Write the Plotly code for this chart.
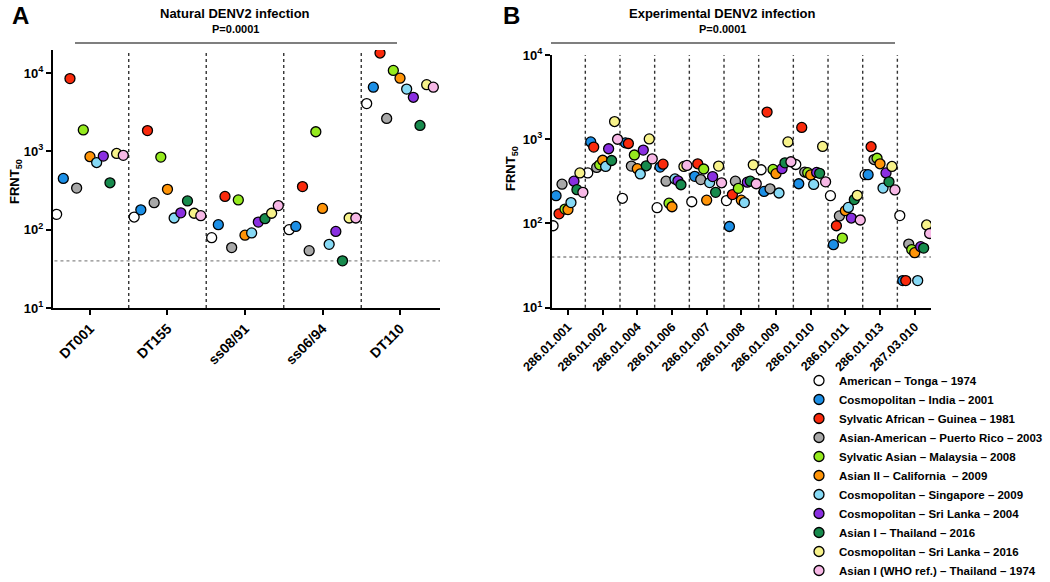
import plotly.graph_objects as go

# sera / samples on the x axes
natural_samples = ["DT001", "DT155", "ss08/91", "ss06/94", "DT110"]
experimental_samples = ["286.01.001", "286.01.002", "286.01.004", "286.01.006",
                        "286.01.007", "286.01.008", "286.01.009", "286.01.010",
                        "286.01.011", "286.01.013", "287.03.010"]

# DENV2 test viruses (legend order)
strains = ["American – Tonga – 1974",
           "Cosmopolitan – India – 2001",
           "Sylvatic African – Guinea – 1981",
           "Asian-American – Puerto Rico – 2003",
           "Sylvatic Asian – Malaysia – 2008",
           "Asian II – California  – 2009",
           "Cosmopolitan – Singapore – 2009",
           "Cosmopolitan – Sri Lanka – 2004",
           "Asian I – Thailand – 2016",
           "Cosmopolitan – Sri Lanka – 2016",
           "Asian I (WHO ref.) – Thailand – 1974"]
strain_colors = ["#ffffff", "#1c8fe6", "#fa2a0c", "#a8a8a8", "#95ea1e", "#ff9408",
                 "#86d9f5", "#8a2fe0", "#178a4d", "#f7f28a", "#f7b8e6"]

# FRNT50 titres, one row per strain
natural_frnt = [
    [157, 145, 79, 100, 4070],
    [451, 179, 116, 110, 6600],
    [8500, 1840, 266, 355, 18000],
    [340, 221, 59, 54, 2630],
    [1880, 845, 240, 1780, 10800],
    [855, 327, 85, 187, 8600],
    [720, 141, 91, 65, 6240],
    [870, 164, 125, 95, 4900],
    [397, 233, 138, 40, 2140],
    [940, 162, 162, 141, 7100],
    [890, 151, 203, 141, 6600],
]
experimental_frnt = [
    [94, 398, 199, 154, 181, 187, 434, 501, 214, 380, 124],
    [214, 930, 906, 467, 363, 92, 240, 296, 56, 380, 21],
    [130, 807, 890, 506, 511, 220, 2100, 1380, 94, 815, 21],
    [293, 463, 480, 318, 332, 318, 258, 408, 123, 574, 57],
    [148, 497, 650, 174, 443, 261, 438, 401, 67, 595, 49],
    [146, 563, 447, 158, 189, 189, 390, 377, 142, 511, 45],
    [177, 475, 387, 338, 306, 177, 230, 291, 155, 263, 21],
    [318, 771, 744, 321, 360, 309, 447, 404, 116, 398, 53],
    [252, 559, 484, 288, 234, 318, 525, 394, 192, 312, 51],
    [398, 1622, 1008, 475, 480, 497, 930, 821, 216, 475, 96],
    [234, 1000, 585, 489, 304, 296, 540, 312, 110, 250, 76],
]
detection_limit = 40

FONT = "Arial, Liberation Sans, sans-serif"
step = 0.086  # horizontal spread of the strains inside a sample column

fig = go.Figure()

# limit of detection lines
for xa, ya, cats in [("x", "y", natural_samples), ("x2", "y2", experimental_samples)]:
    fig.add_trace(go.Scatter(x=[-1, len(cats) + 1], y=[detection_limit] * 2, mode="lines",
                             line=dict(color="#8a8a8a", width=1.3, dash="dot"),
                             xaxis=xa, yaxis=ya, showlegend=False, hoverinfo="skip"))

n = len(strains)
for i, (name, color) in enumerate(zip(strains, strain_colors)):
    shift = (i - (n - 1) / 2) * step
    marker = dict(size=10, color=color, line=dict(color="black", width=1.3))
    fig.add_trace(go.Scatter(x=[j + shift for j in range(len(natural_samples))],
                             y=natural_frnt[i], mode="markers", marker=marker,
                             name=name, legendgroup=name, xaxis="x", yaxis="y"))
    fig.add_trace(go.Scatter(x=[j + shift for j in range(len(experimental_samples))],
                             y=experimental_frnt[i], mode="markers", marker=marker,
                             name=name, legendgroup=name, showlegend=False,
                             xaxis="x2", yaxis="y2"))

# dotted separators between samples
shapes = []
for xref, yref, cats in [("x", "y domain", natural_samples), ("x2", "y2 domain", experimental_samples)]:
    for k in range(len(cats) - 1):
        shapes.append(dict(type="line", xref=xref, yref=yref, x0=k + 0.5, x1=k + 0.5,
                           y0=0, y1=1, layer="below",
                           line=dict(color="#333333", width=1.4, dash="dot")))
# significance brackets
shapes.append(dict(type="line", xref="paper", yref="paper", x0=75 / 1050, x1=397 / 1050,
                   y0=1 - 43 / 582, y1=1 - 43 / 582, line=dict(color="#555555", width=1.5)))
shapes.append(dict(type="line", xref="paper", yref="paper", x0=551 / 1050, x1=895 / 1050,
                   y0=1 - 43 / 582, y1=1 - 43 / 582, line=dict(color="#555555", width=1.5)))

ytickvals = [10, 100, 1000, 10000]
yticktext = ["<b>10<sup>%d</sup></b>" % p for p in range(1, 5)]

axis_common = dict(showline=True, linecolor="black", linewidth=2, ticks="outside",
                   ticklen=5, tickwidth=2, tickcolor="black", showgrid=False,
                   zeroline=False, automargin=False)

fig.update_layout(
    width=1050, height=582,
    margin=dict(l=0, r=0, t=0, b=0, autoexpand=False),
    plot_bgcolor="white", paper_bgcolor="white",
    font=dict(family=FONT, color="black"),
    shapes=shapes,
    xaxis=dict(domain=[53 / 1050, 440 / 1050], range=[-0.477, 4.516],
               tickvals=list(range(len(natural_samples))),
               ticktext=["<b>%s</b>" % s for s in natural_samples],
               tickangle=-45, tickfont=dict(size=14), anchor="y", **axis_common),
    yaxis=dict(domain=[1 - 308 / 582, 1 - 50 / 582], type="log", range=[1, 4.294],
               tickvals=ytickvals, ticktext=yticktext, tickfont=dict(size=13),
               anchor="x", **axis_common),
    xaxis2=dict(domain=[552 / 1050, 931 / 1050], range=[-0.461, 10.47],
                tickvals=list(range(len(experimental_samples))),
                ticktext=["<b>%s</b>" % s for s in experimental_samples],
                tickangle=-45, tickfont=dict(size=12.5), anchor="y2", **axis_common),
    yaxis2=dict(domain=[1 - 307.7 / 582, 1 - 55 / 582], type="log", range=[1, 4],
                tickvals=ytickvals, ticktext=yticktext, tickfont=dict(size=13),
                anchor="x2", **axis_common),
    legend=dict(x=799 / 1050, xanchor="left", y=1 - 366 / 582, yanchor="top",
                font=dict(size=11.5, weight="bold"), bgcolor="rgba(0,0,0,0)",
                itemwidth=30, tracegroupgap=0),
)

annotations = [
    dict(text="<b>A</b>", x=20 / 1050, y=1 - 15 / 582, font=dict(size=24)),
    dict(text="<b>B</b>", x=511 / 1050, y=1 - 15 / 582, font=dict(size=24)),
    dict(text="<b>Natural DENV2 infection</b>", x=235 / 1050, y=1 - 13 / 582, font=dict(size=13)),
    dict(text="<b>P=0.0001</b>", x=235 / 1050, y=1 - 29 / 582, font=dict(size=11)),
    dict(text="<b>Experimental DENV2 infection</b>", x=722 / 1050, y=1 - 13 / 582, font=dict(size=13)),
    dict(text="<b>P=0.0001</b>", x=722 / 1050, y=1 - 29 / 582, font=dict(size=11)),
    dict(text="<b>FRNT<sub>50</sub></b>", x=15 / 1050, y=1 - 182 / 582, textangle=-90, font=dict(size=13)),
    dict(text="<b>FRNT<sub>50</sub></b>", x=511 / 1050, y=1 - 169 / 582, textangle=-90, font=dict(size=13)),
]
for a in annotations:
    a.update(xref="paper", yref="paper", showarrow=False, xanchor="center", yanchor="middle")
fig.update_layout(annotations=annotations)

# the page's default body margin would shift the whole figure by 8px
fig.write_html("out.html", config={"displayModeBar": False},
               post_script="document.body.style.margin='0';")
